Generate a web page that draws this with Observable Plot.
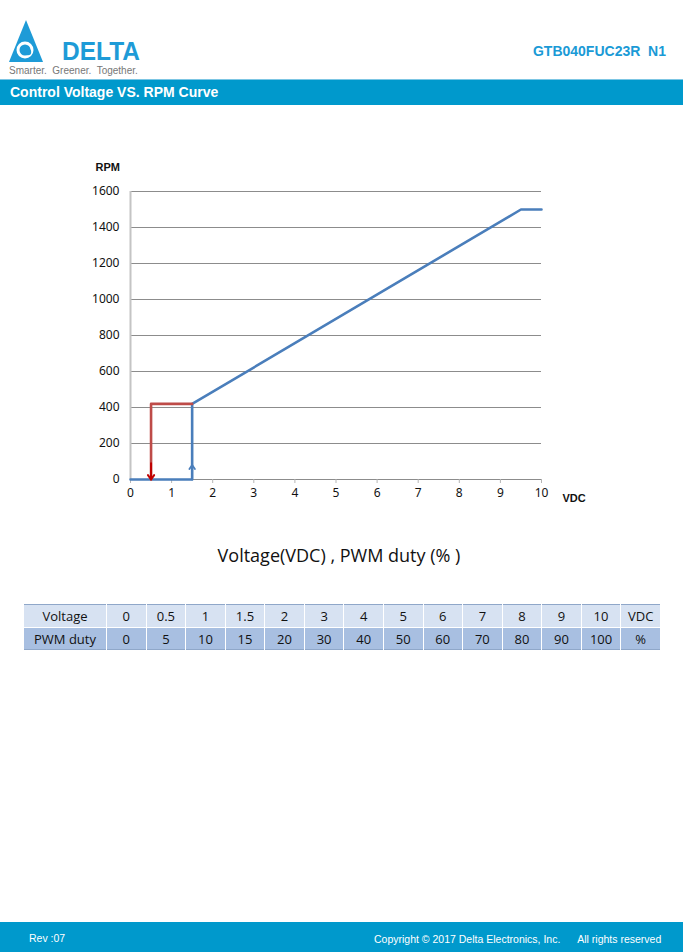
<!DOCTYPE html>
<html>
<head>
<meta charset="utf-8">
<script src="https://cdn.jsdelivr.net/npm/d3@7"></script>
<script src="https://cdn.jsdelivr.net/npm/@observablehq/plot@0.6"></script>
<style>
  html, body { margin: 0; padding: 0; background: #fff; }
  body { width: 683px; height: 952px; position: relative; overflow: hidden; font-family: "Liberation Sans", Arial, sans-serif; }
  .abs { position: absolute; }
  #band { left: 0; top: 79px; width: 683px; height: 26px; background: #0099CC; border-top: 1px solid #7cc6e4; box-sizing: border-box; }
  #bandTitle { left: 10px; top: 84px; color: #fff; font-weight: bold; font-size: 14px; }
  #model { right: 17px; top: 43px; color: #1a9ad6; font-weight: bold; font-size: 14px; }
  #slogan { left: 9px; top: 66px; color: #777; font-size: 10px; white-space: nowrap; line-height: 10px; }
  #footer { left: 0; top: 922px; width: 683px; height: 30px; background: #0099CC; }
  #rev { left: 29px; top: 932px; color: #fff; font-size: 10.5px; }
  #copy { left: 374px; top: 933px; color: #fff; font-size: 10.5px; white-space: pre; }
  #chart { left: 0; top: 150px; }
  #xtitle { left: 0; width: 678px; top: 543px; text-align: center; font-family: "Open Sans", "Noto Sans", sans-serif; font-size: 18px; color: #111; }
  #tbl { left: 23px; top: 604px; width: 638px; table-layout: fixed; border-collapse: collapse; font-family: "Open Sans", "Noto Sans", sans-serif; font-size: 13px; color: #111; border: 1px solid #8fa7c9; }
  #tbl td { text-align: center; padding: 0; border-left: 1px solid #fff; border-right: 1px solid #fff; overflow: hidden; white-space: nowrap; }
  #tbl tr.r1 td { background: #D7E2F2; height: 22px; border-bottom: 1px solid #fff; }
  #tbl tr.r2 td { background: #A8BFE1; height: 21px; }
</style>
</head>
<body>
<svg class="abs" style="left:8px;top:19px" width="140" height="46" viewBox="0 0 140 46">
  <polygon points="18,1 35,43 1,43" fill="#1E9BD7"/>
  <circle cx="17" cy="31" r="7" fill="none" stroke="#fff" stroke-width="3"/>
  <circle cx="20" cy="33" r="3.2" fill="#1E9BD7"/>
  <text x="54" y="41" fill="#1E9BD7" font-family="Liberation Sans, Arial" font-weight="bold" font-size="25" textLength="78" lengthAdjust="spacingAndGlyphs">DELTA</text>
</svg>
<div class="abs" id="slogan">Smarter.&nbsp; Greener.&nbsp; Together.</div>
<div class="abs" id="model">GTB040FUC23R&nbsp; N1</div>
<div class="abs" id="band"></div>
<div class="abs" id="bandTitle">Control Voltage VS. RPM Curve</div>
<div class="abs" id="chart"></div>
<div class="abs" id="xtitle">Voltage(VDC) , PWM duty (% )</div>
<table class="abs" id="tbl"></table>
<div class="abs" id="footer"></div>
<div class="abs" id="rev">Rev :07</div>
<div class="abs" id="copy">Copyright © 2017 Delta Electronics, Inc.      All rights reserved</div>
<script>
// ---- data ----
const blueVoltage = [0, 1.5, 1.5, 9.5, 10];
const blueRpm     = [0, 0, 420, 1500, 1500];
const redVoltage  = [1.5, 0.5, 0.5];
const redRpm      = [420, 420, 0];
const blueArrow = {x1: 1.5, y1: 0, x2: 1.5, y2: 80};
const redArrow  = {x1: 0.5, y1: 90, x2: 0.5, y2: 0};
const xTicks = [0, 1, 2, 3, 4, 5, 6, 7, 8, 9, 10];
const yTicks = [0, 200, 400, 600, 800, 1000, 1200, 1400, 1600];
const tableVoltage = ["0", "0.5", "1", "1.5", "2", "3", "4", "5", "6", "7", "8", "9", "10", "VDC"];
const tableDuty    = ["0", "5", "10", "15", "20", "30", "40", "50", "60", "70", "80", "90", "100", "%"];

const blue = blueVoltage.map((v, i) => ({v, r: blueRpm[i]}));
const red = redVoltage.map((v, i) => ({v, r: redRpm[i]}));
const BLUE = "#4A7EBB", RED = "#BE4B48";

const chart = Plot.plot({
  width: 683,
  height: 370,
  marginLeft: 130,
  marginRight: 142,
  marginTop: 41,
  marginBottom: 41,
  style: {fontFamily: "'Noto Sans', 'DejaVu Sans', sans-serif", fontSize: "12px", color: "#111", background: "transparent"},
  x: {domain: [0, 10]},
  y: {domain: [0, 1600]},
  marks: [
    Plot.ruleY(yTicks, {stroke: "#8c8c8c", strokeWidth: 1, strokeOpacity: 1}),
    Plot.ruleX([0], {stroke: "#c4c4c4", strokeWidth: 2}),
    Plot.axisY({ticks: yTicks, tickSize: 0, tickPadding: 11, label: null, fill: "#111", tickFormat: d => String(d)}),
    Plot.axisX({ticks: xTicks, tickSize: 4, tickPadding: 5, label: null, stroke: "#b5b5b5", fill: "#111", tickFormat: d => String(d)}),
    Plot.line(blue, {x: "v", y: "r", stroke: BLUE, strokeWidth: 2.6}),
    Plot.line(red, {x: "v", y: "r", stroke: RED, strokeWidth: 2.6}),
    Plot.arrow([blueArrow], {x1: "x1", y1: "y1", x2: "x2", y2: "y2", stroke: BLUE, strokeWidth: 1.8, headLength: 9, headAngle: 70}),
    Plot.arrow([redArrow], {x1: "x1", y1: "y1", x2: "x2", y2: "y2", stroke: "#C00000", strokeWidth: 2, headLength: 10, headAngle: 70}),
    Plot.text(["RPM"], {frameAnchor: "top-left", dx: -35, dy: -28, textAnchor: "start", fontWeight: "bold", fontSize: 11, fontFamily: "'Liberation Sans', Arial, sans-serif"}),
    Plot.text(["VDC"], {frameAnchor: "bottom-right", dx: 21, dy: 22, textAnchor: "start", fontWeight: "bold", fontSize: 11, fontFamily: "'Liberation Sans', Arial, sans-serif"})
  ]
});
document.getElementById("chart").appendChild(chart);

// ---- table ----
const tbl = d3.select("#tbl");
const r1 = tbl.append("tr").attr("class", "r1");
r1.append("td").style("width", "82px").text("Voltage");
tableVoltage.forEach(t => r1.append("td").text(t));
const r2 = tbl.append("tr").attr("class", "r2");
r2.append("td").text("PWM duty");
tableDuty.forEach(t => r2.append("td").text(t));
</script>
</body>
</html>
